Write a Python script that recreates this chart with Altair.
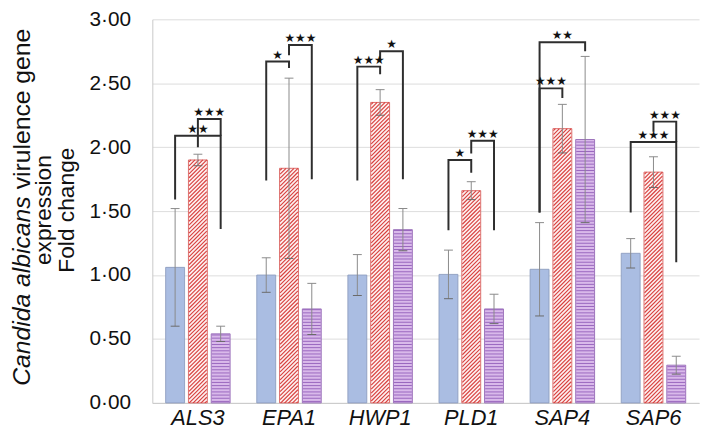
import altair as alt
import pandas as pd

# ---------------- data ----------------
genes = ["ALS3", "EPA1", "HWP1", "PLD1", "SAP4", "SAP6"]
groups = ["Group 1", "Group 2", "Group 3"]
mean_g1 = [1.06, 1.00, 1.00, 1.005, 1.045, 1.17]
mean_g2 = [1.90, 1.835, 2.35, 1.66, 2.145, 1.805]
mean_g3 = [0.54, 0.735, 1.355, 0.735, 2.06, 0.295]
err_g1 = [0.46, 0.135, 0.16, 0.19, 0.365, 0.115]
err_g2 = [0.045, 0.705, 0.10, 0.07, 0.19, 0.12]
err_g3 = [0.06, 0.20, 0.165, 0.115, 0.65, 0.07]

# significance brackets (group index 0/1/2)
br_gene = ["ALS3", "ALS3", "EPA1", "EPA1", "HWP1", "HWP1",
           "PLD1", "PLD1", "SAP4", "SAP4", "SAP6", "SAP6"]
br_left = [0, 1, 0, 1, 0, 1, 0, 1, 0, 0, 0, 1]
br_right = [2, 2, 1, 2, 1, 2, 1, 2, 2, 1, 2, 2]
br_top = [2.09, 2.22, 2.67, 2.80, 2.63, 2.75, 1.90, 2.05, 2.82, 2.46, 2.04, 2.20]
br_low_left = [1.59, 2.00, 1.74, 2.72, 1.74, 2.67, 1.35, 1.95, 1.49, 1.49, 1.49, 2.12]
br_low_right = [1.36, 2.09, 2.62, 1.75, 2.57, 1.75, 1.80, 1.35, 2.75, 2.385, 1.10, 2.04]
br_stars = [2, 3, 1, 3, 3, 1, 1, 3, 2, 3, 3, 3]

y_ticks = [0, 0.5, 1.0, 1.5, 2.0, 2.5, 3.0]

# ---------------- tables ----------------
means = [mean_g1, mean_g2, mean_g3]
errs = [err_g1, err_g2, err_g3]
bar_rows = []
for j, g in enumerate(groups):
    for i, gene in enumerate(genes):
        m, e = means[j][i], errs[j][i]
        bar_rows.append({"gene": gene, "group": g, "value": m,
                         "lo": m - e, "hi": m + e})
bars_df = pd.DataFrame(bar_rows)

line_rows, text_rows = [], []
for k in range(len(br_gene)):
    gl, gr = groups[br_left[k]], groups[br_right[k]]
    pts = [(gl, br_low_left[k]), (gl, br_top[k]), (gr, br_top[k]), (gr, br_low_right[k])]
    for o, (g, yv) in enumerate(pts):
        line_rows.append({"id": k, "gene": br_gene[k], "group": g, "y": yv, "ord": o})
    span2 = (br_right[k] - br_left[k]) == 2
    text_rows.append({"gene": br_gene[k],
                      "group": groups[1] if span2 else gl,
                      "y": br_top[k],
                      "label": "\u2605" * br_stars[k],
                      "kind": "wide" if span2 else "narrow"})
lines_df = pd.DataFrame(line_rows)
text_df = pd.DataFrame(text_rows)

# ---------------- geometry / style ----------------
W, H = 553, 388
PX = H / 3.0  # pixels per unit on the y axis
HALF = 9 / PX  # half the hatch box, in data units
STEP = 4 / PX  # hatch period, in data units

FONT = "Liberation Sans"
xscale = alt.Scale(type="band", domain=genes, paddingInner=0, paddingOuter=0)
oscale = alt.Scale(type="band", domain=groups, paddingInner=0.17, paddingOuter=0.585)
yscale = alt.Scale(domain=[0, 3], nice=False, zero=True)

x_axis = alt.Axis(title=None, labelFont=FONT, labelFontStyle="italic", labelFontSize=22,
                  labelColor="#111111", labelPadding=5, ticks=False, labelAngle=0,
                  domainColor="#c8c8c8", domainWidth=1, grid=False)
y_axis = alt.Axis(title=None, values=y_ticks, labelFont=FONT, labelFontSize=21,
                  labelColor="#111111", labelPadding=22, ticks=False,
                  labelExpr="replace(format(datum.value, '.2f'), '.', '\u00b7')",
                  grid=True, gridColor="#dddddd", gridWidth=1,
                  domainColor="#c8c8c8", domainWidth=1)

X = alt.X("gene:N", scale=xscale, sort=genes, axis=x_axis)
XO = alt.XOffset("group:N", scale=oscale, sort=groups)


def Y(field):
    return alt.Y(field, type="quantitative", scale=yscale, axis=y_axis)


blue, red_base, purple_base = "#aabde2", "#fdf0f0", "#d9b9ea"
blue_edge, red_edge, purple_edge = "#8d9dbf", "#d9605e", "#9468b5"
RED = "#d8403e"

bars = alt.Chart(bars_df).mark_bar(strokeWidth=0.9).encode(
    x=X, xOffset=XO, y=Y("value"),
    fill=alt.Fill("group:N", scale=alt.Scale(domain=groups, range=[blue, red_base, purple_base]), legend=None),
    stroke=alt.Stroke("group:N", scale=alt.Scale(domain=groups, range=[blue_edge, red_edge, purple_edge]), legend=None),
)

# horizontal stripes on group 3
purple_stripes = alt.Chart(bars_df).transform_filter(
    alt.datum.group == groups[2]
).transform_calculate(
    s=f"sequence({1.5 / PX}, datum.value, {3.2 / PX})"
).transform_flatten(["s"]).mark_tick(
    orient="horizontal", size=18, thickness=1, color="#9a68bf", opacity=1
).encode(x=X, xOffset=XO, y=Y("s"))

# diagonal hatch on group 2 (full-width strokes, anchored at the bar top)
red_hatch = alt.Chart(bars_df).transform_filter(
    alt.datum.group == groups[1]
).transform_calculate(
    k=f"sequence(0, ceil(datum.value / {STEP}) + 4)"
).transform_flatten(["k"]).transform_calculate(
    s=f"datum.value - {HALF} - datum.k * {STEP}"
).mark_point(
    shape="M -1 1 L 1 -1", size=324, filled=False, stroke=RED,
    strokeWidth=1.15, opacity=1, clip=True
).encode(x=X, xOffset=XO, y=Y("s"))

# short strokes filling the top-left corner of each hatched bar
corner_path = ("M -1 0.556 L 0.556 -1 M -1 0.111 L 0.111 -1 "
               "M -1 -0.333 L -0.333 -1 M -1 -0.778 L -0.778 -1")
red_corner = alt.Chart(bars_df).transform_filter(
    alt.datum.group == groups[1]
).transform_calculate(
    s=f"datum.value - {HALF}"
).mark_point(
    shape=corner_path, size=324, filled=False, stroke=RED,
    strokeWidth=1.15, opacity=1
).encode(x=X, xOffset=XO, y=Y("s"))

err_rule = alt.Chart(bars_df).mark_rule(color="#8a8a8a", strokeWidth=1).encode(
    x=X, xOffset=XO, y=Y("lo"), y2="hi")
err_top = alt.Chart(bars_df).mark_tick(orient="horizontal", size=9, thickness=1,
                                       color="#8a8a8a", opacity=1).encode(
    x=X, xOffset=XO, y=Y("hi"))
err_bot = alt.Chart(bars_df).mark_tick(orient="horizontal", size=9, thickness=1,
                                       color="#6a6a6a", opacity=1).encode(
    x=X, xOffset=XO, y=Y("lo"))

brackets = alt.Chart(lines_df).mark_line(color="#2e2e2e", strokeWidth=2).encode(
    x=X, xOffset=XO, y=Y("y"),
    detail="id:N", order=alt.Order("ord:Q"))

star_narrow = alt.Chart(text_df).transform_filter(alt.datum.kind == "narrow").mark_text(
    font="DejaVu Sans", fontSize=12, color="#111111", baseline="alphabetic", dy=-3, dx=11.5
).encode(x=X, xOffset=XO, y=Y("y"), text="label:N")
star_wide = alt.Chart(text_df).transform_filter(alt.datum.kind == "wide").mark_text(
    font="DejaVu Sans", fontSize=12, color="#111111", baseline="alphabetic", dy=-3
).encode(x=X, xOffset=XO, y=Y("y"), text="label:N")

# y-axis title (three lines, the first with an italic species name)
title_italic = alt.Chart(pd.DataFrame({"t": ["Candida albicans"]})).mark_text(
    angle=270, align="right", baseline="middle", font=FONT, fontSize=25,
    fontStyle="italic", color="#111111"
).encode(x=alt.value(-132), y=alt.value(179), text="t:N")
title_rest = alt.Chart(pd.DataFrame({"t": ["virulence gene"]})).mark_text(
    angle=270, align="left", baseline="middle", font=FONT, fontSize=25, color="#111111"
).encode(x=alt.value(-132), y=alt.value(172), text="t:N")
title_lines = alt.Chart(pd.DataFrame({"t": ["expression", "Fold change"],
                                      "px": [-109, -86]})).mark_text(
    angle=270, align="center", baseline="middle", font=FONT, fontSize=23, color="#111111"
).encode(x=alt.X("px:Q", scale=None), y=alt.value(193), text="t:N")

chart = alt.layer(
    bars, red_hatch, red_corner, purple_stripes, err_rule, err_top, err_bot,
    brackets, star_narrow, star_wide, title_italic, title_rest, title_lines
).properties(
    width=W, height=H,
    padding={"left": 146, "top": 9, "right": 2, "bottom": 29},
    autosize=alt.AutoSizeParams(type="none"),
    background="white",
).configure_view(stroke=None)

chart.save("out.html", embed_options={"renderer": "svg", "actions": False})
